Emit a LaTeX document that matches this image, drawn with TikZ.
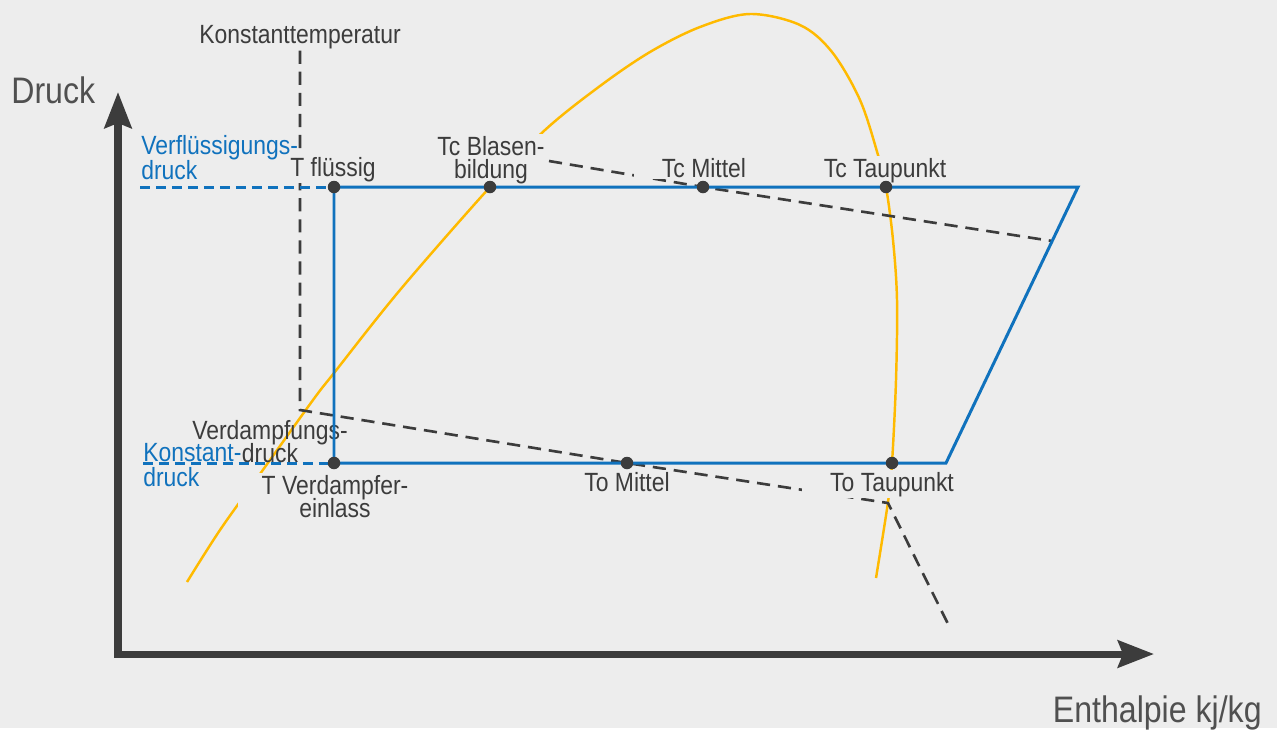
\documentclass[tikz,border=0pt]{standalone}
\usepackage{fontspec}
\setmainfont{Liberation Sans}[FakeStretch=0.87]
\usetikzlibrary{arrows.meta}
\definecolor{bg}{HTML}{EDEDED}
\definecolor{ink}{HTML}{3C3C3C}
\definecolor{pblue}{HTML}{1072BD}
\definecolor{dome}{HTML}{FFBA00}
\setlength{\lineskiplimit}{-20pt}

\begin{document}
\begin{tikzpicture}[x=0.02cm, y=-0.02cm,
	lbl/.style={fill=bg, inner sep=1pt, align=center, text=ink, font=\fontsize{15}{13.2}\selectfont},
	bluelbl/.style={inner sep=0pt, align=left, text=pblue, font=\fontsize{15}{14.2}\selectfont},
	biglbl/.style={inner sep=0pt, text=ink!90, font=\fontsize{21}{24}\selectfont},
	cycleline/.style={pblue, line width=1.7pt, line join=miter},
	bluedash/.style={pblue, line width=1.7pt, dash pattern=on 5.7pt off 3.4pt},
	graydash/.style={ink, line width=1.5pt, dash pattern=on 7.5pt off 4.5pt},
	axis/.style={ink, line width=4pt, line join=miter,
		arrows={Stealth[length=0.72cm, width=0.54cm, inset=0.1cm]-Stealth[length=0.72cm, width=0.54cm, inset=0.1cm]}}]
	\fill [bg] (0,0) rectangle (1277,728);

	\coordinate (tfl) at (334,187);
	\coordinate (tcb) at (490,187);
	\coordinate (tcm) at (703,187);
	\coordinate (tct) at (886,187);
	\coordinate (tr)  at (1078,187);
	\coordinate (br)  at (946,463);
	\coordinate (tve) at (334,463);
	\coordinate (tom) at (627,463);
	\coordinate (tot) at (892,463);
	\coordinate (vdl) at (140,187);
	\coordinate (kdl) at (143,463);
	\coordinate (ytip) at (118,92);
	\coordinate (orig) at (118,654);
	\coordinate (xtip) at (1154,654);

	\draw [dome, line width=1.4pt] plot [smooth, tension=0.55] coordinates {(187,582) (220,530) (260,474) (313,400) (334,373) (400,290) (490,187) (545,130) (600,86) (650,52) (700,27) (750,14) (800,25) (832,52) (860,100) (878,155) (886,187) (893,240) (897,300) (896,380) (892,463) (888,502) (876,578)};

	\node [lbl, anchor=base] (ktemp) at (300,43) {Konstanttemperatur};
	\coordinate (kbend) at (300,410);
	\coordinate (tobend) at (888,503);
	\coordinate (toend) at (950,628);
	\coordinate (cstart) at (549,161);
	\coordinate (cend) at (1052,241);
	\draw [graydash] (ktemp.south) -- (kbend) -- (tom) -- (tobend) -- (toend);
	\draw [graydash] (cstart) -- (tcm) -- (cend);

	\node [lbl, anchor=base] (ltfl) at (333,176) {T flüssig};
	\node [lbl, anchor=north] (ltcb) at (491,134) {Tc Blasen-\\bildung};
	\node [lbl, anchor=base, minimum width=2.8cm] (ltcm) at (704,177) {Tc Mittel};
	\node [lbl, anchor=base] (ltct) at (885,177) {Tc Taupunkt};
	\node [lbl, anchor=base] (ltom) at (627,491) {To Mittel};
	\node [lbl, anchor=base, minimum width=3.6cm] (ltot) at (892,491) {To Taupunkt};
	\node [lbl, anchor=north, minimum width=3.9cm] (ltve) at (335,473) {T Verdampfer-\\einlass};
	\node [lbl, fill=none, anchor=north] (lvdr) at (270,418) {Verdampfungs-\\druck};

	\draw [bluedash] (vdl) -- (tfl);
	\draw [bluedash] (kdl) -- (tve);
	\draw [cycleline] (tfl) -- (tr) -- (br) -- (tve) -- cycle;
	\foreach \p in {tfl,tcb,tcm,tct,tve,tom,tot}
		\fill [ink] (\p) circle (0.125cm);

	\node [bluelbl, anchor=north west] (lvfd) at (141,135) {Verflüssigungs-\\druck};
	\node [bluelbl, anchor=north west] (lkd) at (143,443) {Konstant-\\druck};

	\draw [axis] (ytip) -- (orig) -- (xtip);
	\node [biglbl, anchor=base west] (ldruck) at (11,103) {Druck};
	\node [biglbl, anchor=base east] (lenth) at (1262,722) {Enthalpie kj/kg};
\end{tikzpicture}
\end{document}
